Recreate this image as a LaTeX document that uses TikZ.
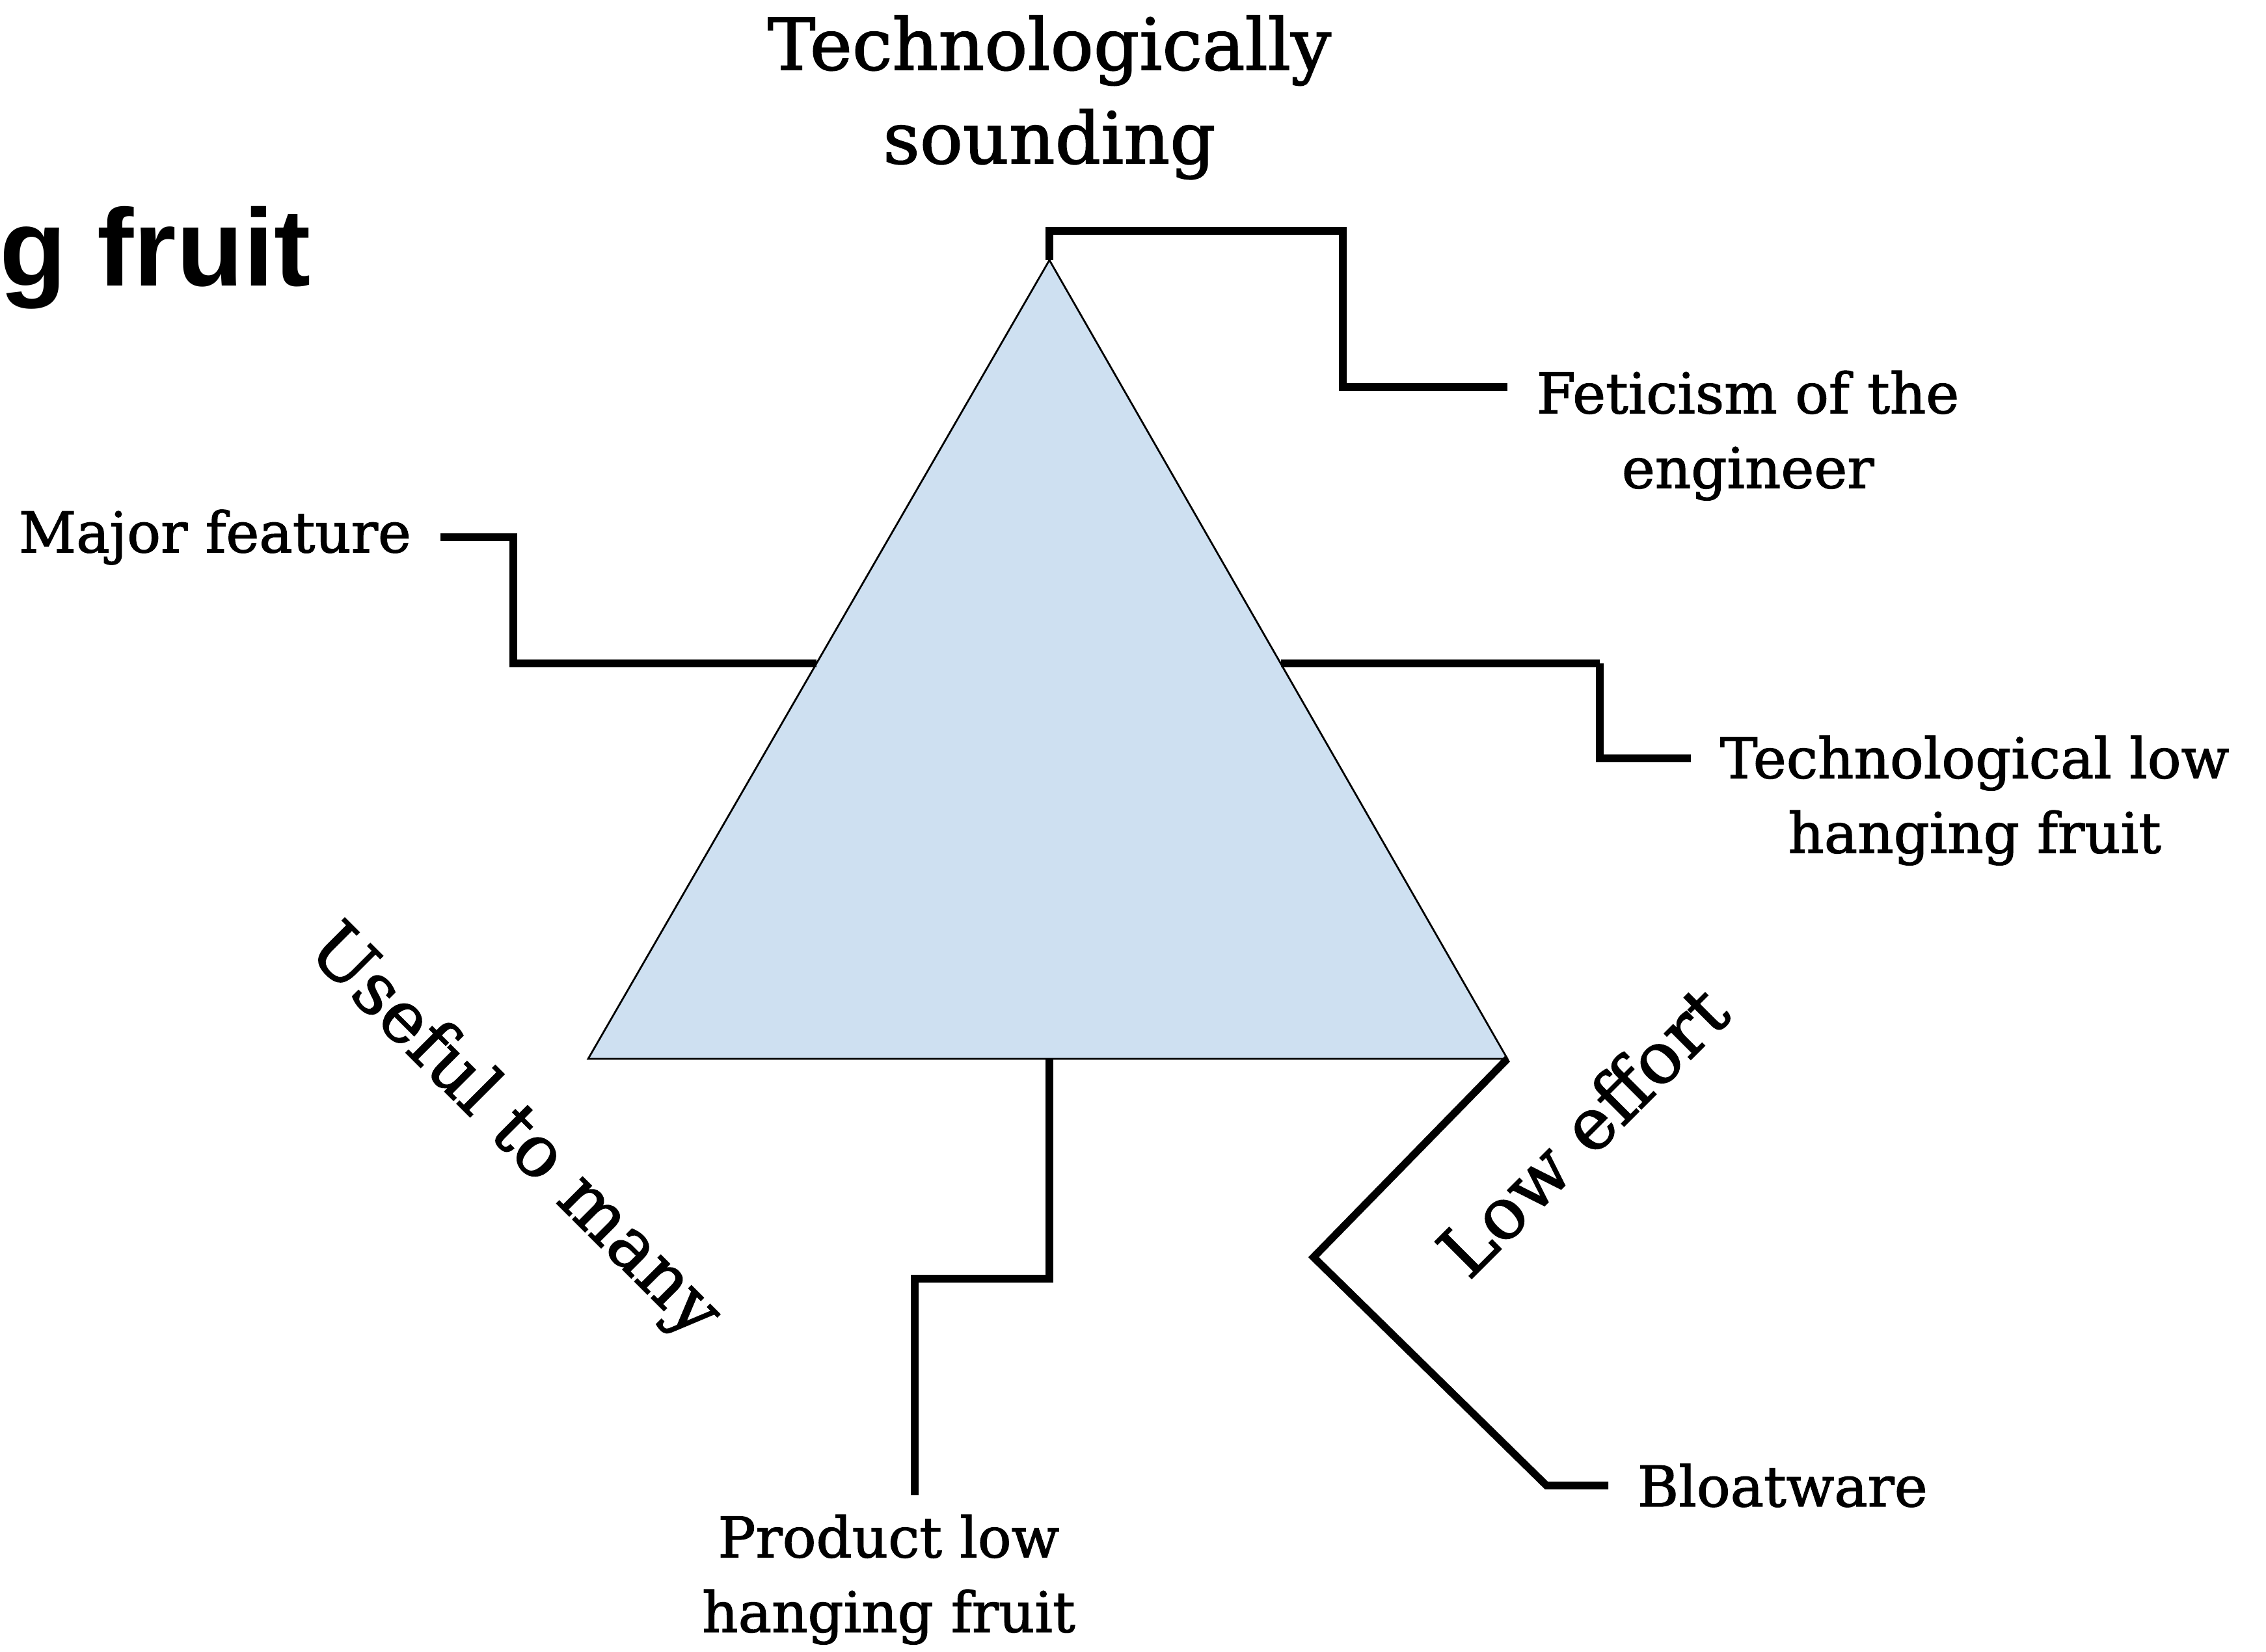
\documentclass[tikz,border=0pt]{standalone}
\usepackage{fontspec}
\setmainfont{DejaVu Serif}[FakeBold=1.5]
\newfontfamily\headfont{Liberation Sans}
\usepackage[rgb]{xcolor}
\usepackage{tikz}
\usetikzlibrary{calc,positioning}
\definecolor{triblue}{RGB}{206,224,241}

\begin{document}
\begin{tikzpicture}[
    lbl/.style={inner sep=0pt,outer xsep=0.45cm,outer ysep=0.3cm,align=center,font=\fontsize{24.5}{32.7}\selectfont},
    bigl/.style={inner sep=0pt,align=center,font=\fontsize{31.3}{41}\selectfont},
    wire/.style={line width=3.3pt},
    tri/.style={fill=triblue,draw=black,line width=0.8pt}]

    \useasboundingbox (0,0) rectangle (34.83,25.40);

    \coordinate (apex) at (16.13,21.40);
    \coordinate (bl) at (9.04,9.12);
    \coordinate (br) at (23.17,9.12);
    \coordinate (lhit) at ($(apex)!0.505!(bl)$);
    \coordinate (rhit) at ($(apex)!0.505!(br)$);
    \coordinate (bmid) at (apex |- bl);

    \filldraw[tri] (apex) -- (bl) -- (br) -- cycle;

    \node[bigl,anchor=north] (top) at (16.13,25.17) {Technologically\\sounding};
    \node[anchor=base east,inner sep=0pt,font=\headfont\bfseries\fontsize{48}{58}\selectfont] (ttl) at (4.78,21.00) {g fruit};

      \node[lbl,anchor=north west] (fet) at (23.17,20.00) {Feticism of the\\engineer};
      \node[lbl,anchor=east] (maj) at (6.77,17.14) {Major feature};
      \node[lbl,anchor=north west] (tech) at (25.99,14.39) {Technological low\\hanging fruit};
      \node[lbl,anchor=north] (prod) at (13.66,2.41) {Product low\\hanging fruit};
      \node[lbl,anchor=west] (bloat) at (24.72,2.56) {Bloatware};
      \node[bigl,rotate=-45] (many) at (7.89,7.98) {Useful to many};
      \node[bigl,rotate=45] (effort) at (24.32,8.02) {Low effort};

    \coordinate (fetbend) at (20.64,21.85);
    \coordinate (majbend) at (7.89,17.14);
    \coordinate (techbend) at (24.59,15.20);
    \coordinate (prodbend) at (14.06,5.74);
    \coordinate (bloatin) at (20.19,6.07);
    \coordinate (bloatout) at (23.77,2.56);

      \draw[wire] (apex) |- (fetbend) |- ([yshift=-0.55cm]fet.north west);
      \draw[wire] (lhit) -| (majbend) -- (maj.east);
      \draw[wire] (rhit) -| (techbend) |- ([yshift=-0.65cm]tech.north west);
      \draw[wire] (bmid) |- (prodbend) -- (prodbend |- prod.north);
      \draw[wire] (br) -- (bloatin) -- (bloatout) -- (bloat.west);

\end{tikzpicture}
\end{document}
